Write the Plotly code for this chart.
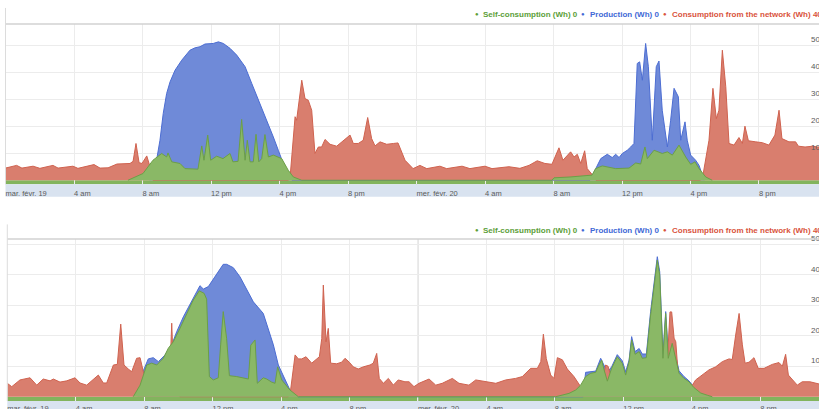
import pandas as pd
import plotly.graph_objects as go

BASE = pd.Timestamp("2019-02-19 00:00")

# ---------------- data: hours after 19 Feb 00:00, values in Wh ----------------
# top chart
top_net_h = [0.0, 0.65, 0.96, 1.61, 2.01, 2.77, 3.07, 3.94, 4.23, 5.17, 5.52, 5.99, 6.51, 7.27, 7.45, 7.62, 7.80, 7.97, 8.25, 8.44,
             8.61, 16.50, 16.61, 16.91, 17.00, 17.30, 17.49, 17.68, 17.88, 18.07, 18.27, 18.46, 18.66, 18.95, 19.34, 19.73, 20.12, 20.31, 20.60, 20.89,
             21.15, 21.38, 21.58, 21.87, 22.26, 22.65, 22.92, 23.33, 23.80, 24.20, 24.60, 25.37, 25.76, 26.66, 27.12, 28.00, 28.41, 29.40, 30.04, 30.57,
             31.05, 31.50, 31.91, 32.32, 32.55, 33.00, 33.20, 33.39, 33.59, 33.82, 33.97, 34.27, 34.48, 40.55, 40.69, 41.08, 41.31, 41.51, 41.66, 41.86,
             42.06, 42.25, 42.54, 42.83, 43.03, 43.18, 43.38, 43.81, 44.19, 44.58, 44.93, 45.17, 45.34, 45.75, 46.14, 46.30, 46.69, 47.15, 47.68]
top_net = [45, 55, 45, 52, 44, 55, 45, 52, 44, 58, 45, 46, 60, 62, 70, 136, 65, 62, 90, 50,
           0, 0, 5, 235, 222, 370, 302, 296, 259, 99, 123, 123, 151, 133, 126, 148, 167, 136, 136, 148,
           232, 154, 127, 142, 133, 136, 138, 74, 43, 55, 43, 52, 43, 52, 43, 52, 43, 50, 44, 55,
           72, 62, 59, 120, 74, 105, 86, 96, 62, 109, 43, 20, 0, 0, 5, 148, 340, 228, 259, 481,
           346, 136, 130, 158, 136, 200, 146, 142, 139, 130, 167, 259, 154, 142, 142, 126, 123, 126, 120]

top_self_h = [7.15, 8.03, 8.61, 9.12, 9.41, 9.49, 9.71, 10.19, 10.48, 10.95, 11.24, 11.46, 11.59, 11.81, 11.98, 12.33, 12.70, 13.11, 13.28, 13.58,
              13.79, 13.99, 14.12, 14.28, 14.47, 14.63, 14.79, 14.96, 15.15, 15.35, 15.64, 16.13, 16.51, 16.81, 17.30, 31.91, 32.03, 32.96, 34.25, 34.46,
              34.85, 35.63, 36.41, 36.80, 37.09, 37.34, 37.48, 37.87, 38.35, 38.65, 38.94, 39.33, 39.72, 40.01, 40.26, 40.50, 40.89, 41.27]
top_self = [0, 25, 74, 99, 86, 101, 68, 62, 43, 42, 41, 127, 74, 167, 74, 89, 80, 99, 68, 70,
            225, 74, 148, 68, 68, 170, 68, 80, 169, 86, 93, 80, 37, 12, 0, 0, 9, 12, 19, 43,
            53, 43, 45, 64, 60, 123, 80, 111, 99, 105, 93, 130, 86, 59, 68, 43, 12, 0]

top_prod_h = [8.44, 8.85, 9.02, 9.21, 9.41, 9.61, 9.90, 10.29, 10.77, 11.07, 11.36, 11.65, 12.13, 12.43, 12.72, 13.11, 13.50, 13.99, 14.38, 14.86,
              15.25, 15.64, 15.93, 16.22, 16.50, 16.73, 34.13, 34.37, 34.76, 35.14, 35.43, 35.63, 35.83, 36.02, 36.31, 36.51, 36.70, 36.89, 37.03, 37.19,
              37.38, 37.54, 37.68, 37.77, 38.00, 38.16, 38.35, 38.65, 38.84, 39.04, 39.29, 39.43, 39.68, 39.81, 40.01, 40.30, 40.50, 40.79]
top_prod = [0, 85, 148, 247, 321, 364, 407, 444, 481, 490, 494, 504, 506, 512, 506, 488, 463, 420, 358, 284,
            222, 160, 111, 62, 30, 0, 0, 30, 80, 96, 84, 96, 84, 99, 111, 123, 136, 432, 438, 370,
            506, 420, 222, 148, 420, 441, 259, 123, 222, 340, 309, 148, 216, 148, 93, 74, 55, 0]

# bottom chart
bot_net_h = [0.0, 0.26, 0.74, 1.33, 1.72, 2.10, 2.50, 2.69, 3.08, 3.47, 3.96, 4.25, 4.64, 5.32, 5.61, 5.81, 6.20, 6.43, 6.63, 6.82,
             7.07, 7.27, 7.56, 7.76, 7.95, 8.22, 8.34, 9.55, 9.61, 9.67, 9.80, 10.09, 16.41, 16.53, 16.82, 17.01, 17.21, 17.46, 17.79, 18.08,
             18.24, 18.38, 18.47, 18.63, 18.76, 18.90, 19.25, 19.54, 19.74, 19.99, 20.22, 20.51, 20.81, 21.20, 21.39, 21.59, 21.74, 21.98, 22.27, 22.56,
             22.85, 23.24, 23.48, 23.77, 24.06, 24.65, 25.04, 25.42, 26.01, 26.40, 26.98, 27.38, 28.00, 28.55, 29.13, 29.71, 30.10, 30.59, 30.98, 31.18,
             31.33, 31.50, 31.76, 31.95, 32.15, 32.44, 32.73, 33.12, 33.51, 33.71, 33.94, 34.64, 34.82, 34.97, 35.11, 35.32, 35.52, 38.44, 38.61, 38.73,
             38.83, 38.97, 39.07, 39.20, 39.61, 40.04, 40.23, 40.62, 41.01, 41.40, 41.79, 42.18, 42.37, 42.57, 42.77, 42.96, 43.12, 43.35, 43.64, 43.89,
             44.23, 44.71, 45.10, 45.30, 45.49, 45.65, 45.88, 46.17, 46.46, 46.91, 47.50]
bot_net = [44, 33, 55, 62, 38, 58, 52, 58, 48, 52, 62, 45, 38, 71, 45, 45, 104, 106, 238, 104,
           91, 82, 126, 128, 82, 40, 40, 150, 241, 150, 30, 0, 0, 10, 137, 124, 124, 131, 110, 124,
           131, 191, 366, 180, 224, 110, 108, 113, 126, 113, 98, 91, 98, 104, 110, 142, 60, 44, 60, 38,
           55, 49, 49, 33, 44, 58, 38, 44, 60, 44, 38, 55, 49, 44, 55, 60, 66, 93, 93, 115,
           205, 125, 71, 60, 128, 121, 91, 66, 33, 20, 10, 10, 60, 104, 100, 60, 10, 10, 150, 278,
           278, 192, 180, 80, 30, 38, 55, 71, 88, 98, 115, 124, 122, 202, 273, 170, 110, 113, 128, 93,
           93, 106, 112, 100, 139, 71, 55, 38, 49, 49, 41]

bot_self_h = [7.36, 7.76, 8.15, 8.44, 8.73, 9.12, 9.41, 9.70, 10.09, 10.49, 10.87, 11.22, 11.50, 11.65, 11.81, 12.04, 12.33, 12.47, 12.62, 12.82,
              12.98, 13.41, 13.79, 14.09, 14.23, 14.48, 14.61, 14.96, 15.16, 15.45, 15.65, 15.80, 16.04, 16.52, 17.01, 32.05, 32.83, 33.22, 33.51, 33.80,
              34.10, 34.39, 34.58, 34.74, 34.87, 35.07, 35.32, 35.65, 35.94, 36.14, 36.34, 36.49, 36.69, 36.93, 37.11, 37.35, 37.60, 37.86, 37.99, 38.13,
              38.32, 38.48, 38.63, 38.86, 39.06, 39.26, 39.55, 39.84, 40.13, 40.53, 40.91, 41.20]
bot_self = [0, 38, 104, 110, 104, 126, 159, 180, 224, 273, 317, 347, 339, 320, 66, 55, 62, 170, 279, 190,
            69, 66, 62, 58, 169, 186, 44, 62, 58, 48, 44, 98, 55, 22, 0, 0, 11, 22, 38, 66,
            77, 80, 104, 120, 90, 51, 93, 131, 110, 71, 115, 186, 139, 148, 126, 128, 268, 388, 448, 399,
            126, 273, 126, 175, 126, 77, 60, 49, 30, 12, 5, 0]

bot_prod_h = [7.64, 7.95, 8.24, 8.53, 8.83, 9.22, 9.61, 9.90, 10.29, 10.68, 11.07, 11.26, 11.46, 11.75, 12.14, 12.62, 12.82, 13.21, 13.60, 13.99,
              14.38, 14.96, 15.25, 15.55, 15.84, 16.13, 16.52, 17.01, 33.65, 33.80, 34.10, 34.39, 34.68, 34.87, 35.07, 35.32, 35.65, 35.94,
              36.14, 36.34, 36.49, 36.69, 36.93, 37.11, 37.35, 37.60, 37.86, 37.99, 38.13, 38.32, 38.48, 38.63, 38.86, 39.06, 39.26, 39.55,
              39.84, 40.13, 40.53, 40.91, 41.20]
bot_prod = [0, 85, 124, 128, 115, 137, 170, 213, 262, 301, 344, 364, 353, 361, 393, 434, 434, 423, 393, 350,
            311, 273, 224, 170, 104, 71, 22, 0, 0, 80, 82, 84, 126, 104, 80, 98, 138, 118,
            82, 120, 197, 148, 158, 140, 140, 280, 400, 459, 410, 140, 279, 140, 186, 140, 85, 66,
            52, 32, 15, 5, 0]

TICK_HOURS = [0, 4, 8, 12, 16, 20, 24, 28, 32, 36, 40, 44]
TICK_TEXT = ["mar. févr. 19", "4 am", "8 am", "12 pm", "4 pm", "8 pm",
             "mer. févr. 20", "4 am", "8 am", "12 pm", "4 pm", "8 pm"]
DAY_HOURS = [24]
Y_TICKS = [100, 200, 300, 400, 500]
LEGEND_NAMES = ["Self-consumption (Wh) 0", "Production (Wh) 0",
                "Consumption from the network (Wh) 40"]

# ---------------- style ----------------
FONT = "Liberation Sans, Arial, sans-serif"
GREEN_FILL, GREEN_LINE, GREEN_TXT = "#8ab866", "#6c9f47", "#5c9e38"
BLUE_FILL, BLUE_LINE, BLUE_TXT = "#6f8ad8", "#4c6dd2", "#4169d6"
RED_FILL, RED_LINE, RED_TXT = "#d97e6e", "#cf624f", "#d9533c"
STRIP = "#82b45d"
BAND = "#d9e3f0"
GRID = "#ececec"
DAYLINE = "#c9c9c9"
LABEL = "#5a5a5a"


def t(hours):
    return [BASE + pd.Timedelta(hours=h) for h in hours]


panels = [
    dict(s="", xdom=[5.5 / 819, 1], ydom=[0.5494, 0.9413], xend=47.504, yr=[-15, 578],
         band=0.0774, top_ext=0.10, leg_y=1 - 14.3 / 409, standoff=3,
         prod=(top_prod_h, top_prod), net=(top_net_h, top_net), self_=(top_self_h, top_self)),
    dict(s="2", xdom=[7.3 / 819, 1], ydom=[0.01956, 0.41565], xend=47.44, yr=[-14, 517],
         band=0.07, top_ext=0.09, leg_y=1 - 230 / 409, standoff=2,
         prod=(bot_prod_h, bot_prod), net=(bot_net_h, bot_net), self_=(bot_self_h, bot_self)),
]

fig = go.Figure()
shapes, annotations = [], []
layout = {}

for p in panels:
    s = p["s"]
    xa, ya = "x" + s, "y" + s
    for (hh, vv), fc, lc in [(p["prod"], BLUE_FILL, BLUE_LINE),
                             (p["net"], RED_FILL, RED_LINE),
                             (p["self_"], GREEN_FILL, GREEN_LINE)]:
        fig.add_trace(go.Scatter(x=t(hh), y=vv, mode="lines", fill="tozeroy",
                                 fillcolor=fc, line=dict(color=lc, width=1),
                                 xaxis=xa, yaxis=ya, hoverinfo="skip", showlegend=False))

    layout["xaxis" + s] = dict(
        domain=p["xdom"], anchor=ya, automargin=False,
        range=[BASE, BASE + pd.Timedelta(hours=p["xend"])],
        tickvals=t(TICK_HOURS), ticktext=TICK_TEXT,
        ticklabelposition="outside right", ticks="", ticklabelstandoff=p["standoff"],
        tickfont=dict(family=FONT, size=7.5, color=LABEL),
        showgrid=True, gridcolor=GRID, gridwidth=1,
        zeroline=False, showline=False, fixedrange=True)
    layout["yaxis" + s] = dict(
        domain=p["ydom"], anchor="free", position=0.989, side="right", automargin=False,
        range=p["yr"], tickvals=Y_TICKS, ticks="",
        tickfont=dict(family=FONT, size=8, color=LABEL),
        ticklabelshift=-6,
        showgrid=True, gridcolor=GRID, gridwidth=1,
        zeroline=False, showline=False, fixedrange=True)

    xd, yd = xa + " domain", ya + " domain"
    # axis label band
    shapes.append(dict(type="rect", xref=xd, yref=yd, x0=0, x1=1, y0=-p["band"], y1=0,
                       fillcolor=BAND, line=dict(width=0), layer="below"))
    # green baseline strip below zero
    shapes.append(dict(type="rect", xref=xd, yref=ya, x0=0, x1=1, y0=p["yr"][0], y1=0,
                       fillcolor=STRIP, line=dict(width=0), layer="below"))
    # top border
    shapes.append(dict(type="line", xref=xd, yref=yd, x0=0, x1=1, y0=1, y1=1,
                       line=dict(color="#d2d2d2", width=1.5)))
    # left edge line
    shapes.append(dict(type="line", xref=xd, yref=yd, x0=0, x1=0, y0=0, y1=1 + p["top_ext"],
                       line=dict(color="#dcdcdc", width=1)))
    # day boundaries
    for dh in DAY_HOURS:
        dx = BASE + pd.Timedelta(hours=dh)
        shapes.append(dict(type="line", xref=xa, yref=yd, x0=dx, x1=dx, y0=0, y1=1,
                           line=dict(color=DAYLINE, width=1), layer="below"))

    # legend (Highcharts-like, top right, running off the edge)
    bullets = [476.7, 582.7, 664.7]
    texts = [481.7, 589.0, 670.7]
    for name, col, bx, tx in zip(LEGEND_NAMES, [GREEN_TXT, BLUE_TXT, RED_TXT], bullets, texts):
        annotations.append(dict(xref="paper", yref="paper", x=bx / 819, y=p["leg_y"],
                                text="●", showarrow=False, xanchor="center", yanchor="middle",
                                font=dict(family=FONT, size=6, color=col)))
        annotations.append(dict(xref="paper", yref="paper", x=tx / 819, y=p["leg_y"],
                                text="<b>" + name + "</b>", showarrow=False, xanchor="left",
                                yanchor="middle", borderpad=0,
                                font=dict(family=FONT, size=8, color=col)))

fig.update_layout(
    width=819, height=409, margin=dict(l=0, r=0, t=0, b=0, pad=0, autoexpand=False),
    paper_bgcolor="white", plot_bgcolor="white",
    showlegend=False, shapes=shapes, annotations=annotations,
    font=dict(family=FONT), **layout)

fig.write_html("out.html", config={"displayModeBar": False},
               post_script="document.body.style.margin='0';document.body.style.overflow='hidden';")
